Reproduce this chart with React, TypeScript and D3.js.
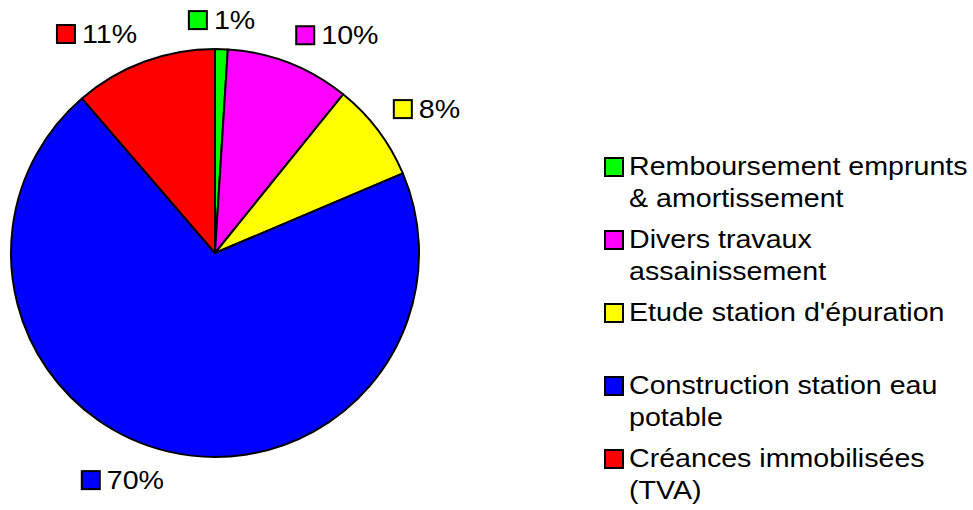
import React, { useEffect, useRef } from "react";
import * as d3 from "d3";

const categories = [
  "Remboursement emprunts & amortissement",
  "Divers travaux assainissement",
  "Etude station d'épuration",
  "Construction station eau potable",
  "Créances immobilisées (TVA)",
];
const values = [1.0, 9.8, 7.8, 70.0, 11.3];
const pctLabels = ["1%", "10%", "8%", "70%", "11%"];
const colors = ["#00ff00", "#ff00ff", "#ffff00", "#0000ff", "#ff0000"];

export default function App() {
  const ref = useRef<SVGSVGElement | null>(null);

  useEffect(() => {
    draw();
  }, []);

  const draw = () => {
    const width = 973;
    const height = 510;
    const font = "'Liberation Sans', Arial, sans-serif";
    const fontSize = 26;
    const stretch = 1.1; // text in the original is a bit wider than Arial

    const svg = d3.select(ref.current);
    svg.selectAll("*").remove();
    svg.attr("width", width).attr("height", height);

    const cx = 215;
    const cy = 253;
    const radius = 204;

    const data = categories.map((c, i) => ({ name: c, value: values[i], label: pctLabels[i], color: colors[i] }));

    const pie = d3
      .pie<any>()
      .sort(null)
      .value((d) => d.value);
    const arcs = pie(data);
    const arc = d3.arc<any>().innerRadius(0).outerRadius(radius);

    const g = svg.append("g").attr("transform", `translate(${cx}, ${cy})`);

    g.selectAll("path")
      .data(arcs)
      .enter()
      .append("path")
      .attr("d", arc)
      .attr("fill", (d) => d.data.color)
      .attr("stroke", "#000")
      .attr("stroke-width", 2)
      .attr("stroke-linejoin", "round");

    // data labels: small colored box + percent
    const box = 18;
    const gap = 7;
    const labelR = radius + 20;
    arcs.forEach((d) => {
      const mid = (d.startAngle + d.endAngle) / 2;
      const s = Math.sin(mid);
      const c = Math.cos(mid);
      const px = labelR * s;
      const py = -labelR * c;

      const lg = g.append("g");
      lg.append("rect")
        .attr("width", box)
        .attr("height", box)
        .attr("fill", d.data.color)
        .attr("stroke", "#000")
        .attr("stroke-width", 2);
      const t = lg
        .append("text")
        .attr("transform", `translate(${box + gap}, ${box}) scale(${stretch}, 1)`)
        .attr("font-family", font)
        .attr("font-size", fontSize)
        .attr("fill", "#000")
        .text(d.data.label);
      const tw = (t.node() as SVGTextElement).getComputedTextLength() * stretch;
      const w = box + gap + tw;

      let x0 = px;
      if (Math.abs(s) < 0.15) x0 = px - w / 2;
      else if (s < 0) x0 = px - w;
      const y0 = c > 0 ? py - box : py;
      lg.attr("transform", `translate(${x0}, ${y0})`);
    });

    // legend
    const legend = svg.append("g").attr("transform", "translate(604, 0)");
    const maxW = 320;
    const lineH = 32;
    data.forEach((d, i) => {
      const base = 175 + i * 73;
      const row = legend.append("g");
      row
        .append("rect")
        .attr("x", 1)
        .attr("y", base - 17)
        .attr("width", box)
        .attr("height", box)
        .attr("fill", d.color)
        .attr("stroke", "#000")
        .attr("stroke-width", 2);

      const text = row
        .append("text")
        .attr("transform", `translate(25, ${base}) scale(${stretch}, 1)`)
        .attr("font-family", font)
        .attr("font-size", fontSize)
        .attr("fill", "#000");

      const words = d.name.split(" ");
      let line: string[] = [];
      let lineNo = 0;
      let tspan = text.append("tspan").attr("x", 0).attr("y", 0);
      words.forEach((word) => {
        line.push(word);
        tspan.text(line.join(" "));
        if ((tspan.node() as SVGTSpanElement).getComputedTextLength() > maxW && line.length > 1) {
          line.pop();
          tspan.text(line.join(" "));
          line = [word];
          lineNo += 1;
          tspan = text
            .append("tspan")
            .attr("x", 0)
            .attr("y", lineNo * lineH)
            .text(word);
        }
      });
    });
  };

  return (
    <svg
      ref={ref}
      style={{ position: "absolute", left: 0, top: 0, background: "#fff" }}
    ></svg>
  );
}
